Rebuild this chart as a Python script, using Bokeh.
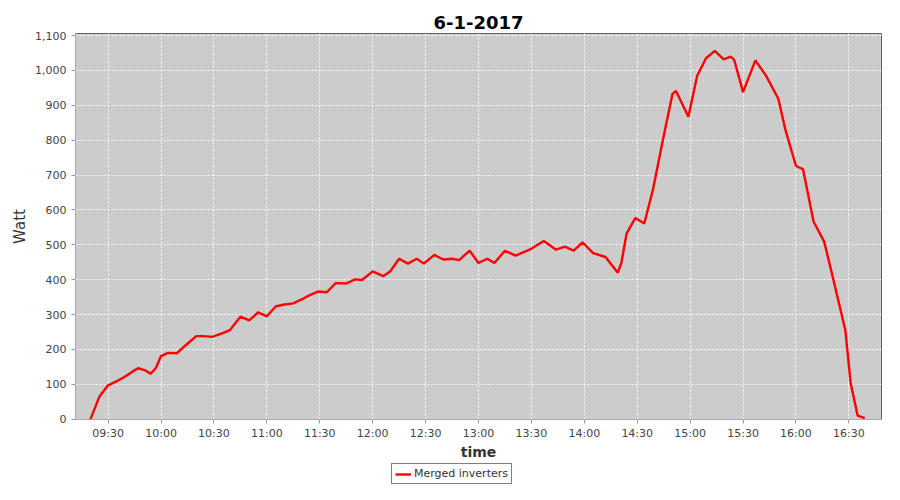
from datetime import datetime
from bokeh.plotting import figure
from bokeh.layouts import column
from bokeh.models import Range1d, Legend, LegendItem, NumeralTickFormatter, DatetimeTickFormatter, FixedTicker, ColumnDataSource
from bokeh.embed import file_html
from bokeh.resources import INLINE

title = "6-1-2017"
series_name = "Merged inverters"
times = ["09:20", "09:25", "09:30", "09:35", "09:39", "09:44", "09:47", "09:51", "09:54", "09:57",
         "10:00", "10:04", "10:09", "10:14", "10:20", "10:24", "10:29", "10:35", "10:39", "10:45",
         "10:50", "10:55", "11:00", "11:05", "11:09", "11:15", "11:20", "11:24", "11:29", "11:34",
         "11:39", "11:45", "11:50", "11:54", "12:00", "12:06", "12:10", "12:15", "12:20", "12:25",
         "12:29", "12:35", "12:40", "12:45", "12:49", "12:55", "13:00", "13:05", "13:09", "13:15",
         "13:21", "13:29", "13:37", "13:44", "13:49", "13:54", "13:59", "14:05", "14:12", "14:19",
         "14:21", "14:24", "14:29", "14:34", "14:39", "14:44", "14:50", "14:52", "14:59", "15:04",
         "15:09", "15:14", "15:19", "15:23", "15:25", "15:30", "15:37", "15:43", "15:50", "15:54",
         "16:00", "16:04", "16:10", "16:16", "16:21", "16:28", "16:31", "16:35", "16:39"]
watts = [0, 64, 97, 109, 120, 137, 146, 140, 130, 146,
         181, 190, 189, 212, 238, 238, 236, 247, 255, 294,
         283, 306, 295, 323, 328, 332, 344, 355, 366, 364,
         390, 389, 401, 399, 424, 410, 424, 460, 446, 460,
         446, 471, 458, 460, 456, 483, 448, 460, 448, 483,
         469, 486, 511, 486, 495, 483, 507, 476, 465, 420,
         448, 533, 577, 561, 660, 787, 933, 941, 867, 985,
         1035, 1056, 1032, 1040, 1030, 938, 1029, 985, 919, 830,
         726, 717, 566, 509, 405, 255, 104, 10, 3]
tick_times = ["09:30", "10:00", "10:30", "11:00", "11:30", "12:00", "12:30", "13:00",
              "13:30", "14:00", "14:30", "15:00", "15:30", "16:00", "16:30"]
y_ticks = [0, 100, 200, 300, 400, 500, 600, 700, 800, 900, 1000, 1100]

def to_dt(s):
    return datetime(2017, 1, 6, int(s[:2]), int(s[3:]))

def to_ms(d):
    return (d - datetime(1970, 1, 1)).total_seconds() * 1000

x = [to_dt(t) for t in times]
src = ColumnDataSource(dict(x=x, y=watts))

p = figure(width=884, height=462, x_axis_type="datetime",
           output_backend="svg", toolbar_location=None,
           x_range=Range1d(datetime(2017, 1, 6, 9, 11, 30), datetime(2017, 1, 6, 16, 48, 30)),
           y_range=Range1d(-1, 1106),
           min_border_left=75, min_border_right=3, min_border_top=33, min_border_bottom=38)

p.title.text = title
p.title.align = "center"
p.title.text_font = "DejaVu Sans"
p.title.text_font_size = "18px"
p.title.text_font_style = "bold"
p.title.text_color = "black"
p.title.offset = 0
p.title.standoff = 10

p.background_fill_color = "#cccccc"
p.border_fill_color = "white"
p.outline_line_color = "#666666"
p.outline_line_width = 1

r = p.line("x", "y", source=src, line_color="#ff0000", line_width=2.4)

p.xaxis.ticker = FixedTicker(ticks=[to_ms(to_dt(t)) for t in tick_times])
p.xaxis.formatter = DatetimeTickFormatter(minutes="%H:%M", hourmin="%H:%M", hours="%H:%M")
p.yaxis.ticker = FixedTicker(ticks=y_ticks)
p.yaxis.formatter = NumeralTickFormatter(format="0,0")

for ax in (p.xaxis[0], p.yaxis[0]):
    ax.axis_line_color = "#aaaaaa"
    ax.major_tick_line_color = "#999999"
    ax.major_tick_out = 4
    ax.major_tick_in = 0
    ax.minor_tick_line_color = None
    ax.major_label_text_font = "DejaVu Sans"
    ax.major_label_text_font_size = "11px"
    ax.major_label_text_color = "#444444"
    ax.axis_label_text_font = "DejaVu Sans"
    ax.axis_label_text_color = "#333333"

p.xaxis.major_label_standoff = 3
p.xaxis.axis_label = "time"
p.xaxis.axis_label_text_font_size = "14px"
p.xaxis.axis_label_text_font_style = "bold"
p.xaxis.axis_label_standoff = 1
p.yaxis.axis_label = "Watt"
p.yaxis.axis_label_text_font_size = "15px"
p.yaxis.axis_label_text_font_style = "normal"
p.yaxis.axis_label_standoff = 3

p.xgrid.grid_line_color = "white"
p.xgrid.grid_line_dash = "2 2"
p.xgrid.grid_line_alpha = 0.9
p.ygrid.grid_line_color = "white"
p.ygrid.grid_line_dash = "2 2"
p.ygrid.grid_line_alpha = 0.9

# legend strip below the chart
q = figure(width=884, height=22, output_backend="svg", toolbar_location=None,
           x_range=Range1d(0, 1), y_range=Range1d(0, 1),
           x_axis_location=None, y_axis_location=None,
           min_border=0, min_border_left=0, min_border_right=0, min_border_top=0, min_border_bottom=0)
q.outline_line_color = None
q.grid.visible = False
q.background_fill_color = "white"
dummy = q.line(x=[5, 6], y=[5, 6], line_color="#ff0000", line_width=2.4)

legend = Legend(items=[LegendItem(label=series_name, renderers=[dummy])],
                location=(316, 0), orientation="horizontal",
                border_line_color="black", border_line_width=1,
                background_fill_color="white", background_fill_alpha=1,
                label_text_font="DejaVu Sans", label_text_font_size="11px",
                label_text_color="#333333",
                glyph_width=16, glyph_height=12, padding=3, spacing=0,
                margin=0, label_standoff=3)
q.add_layout(legend, "center")

layout = column(p, q, spacing=0)
open("out.html", "w").write(file_html(layout, INLINE))
